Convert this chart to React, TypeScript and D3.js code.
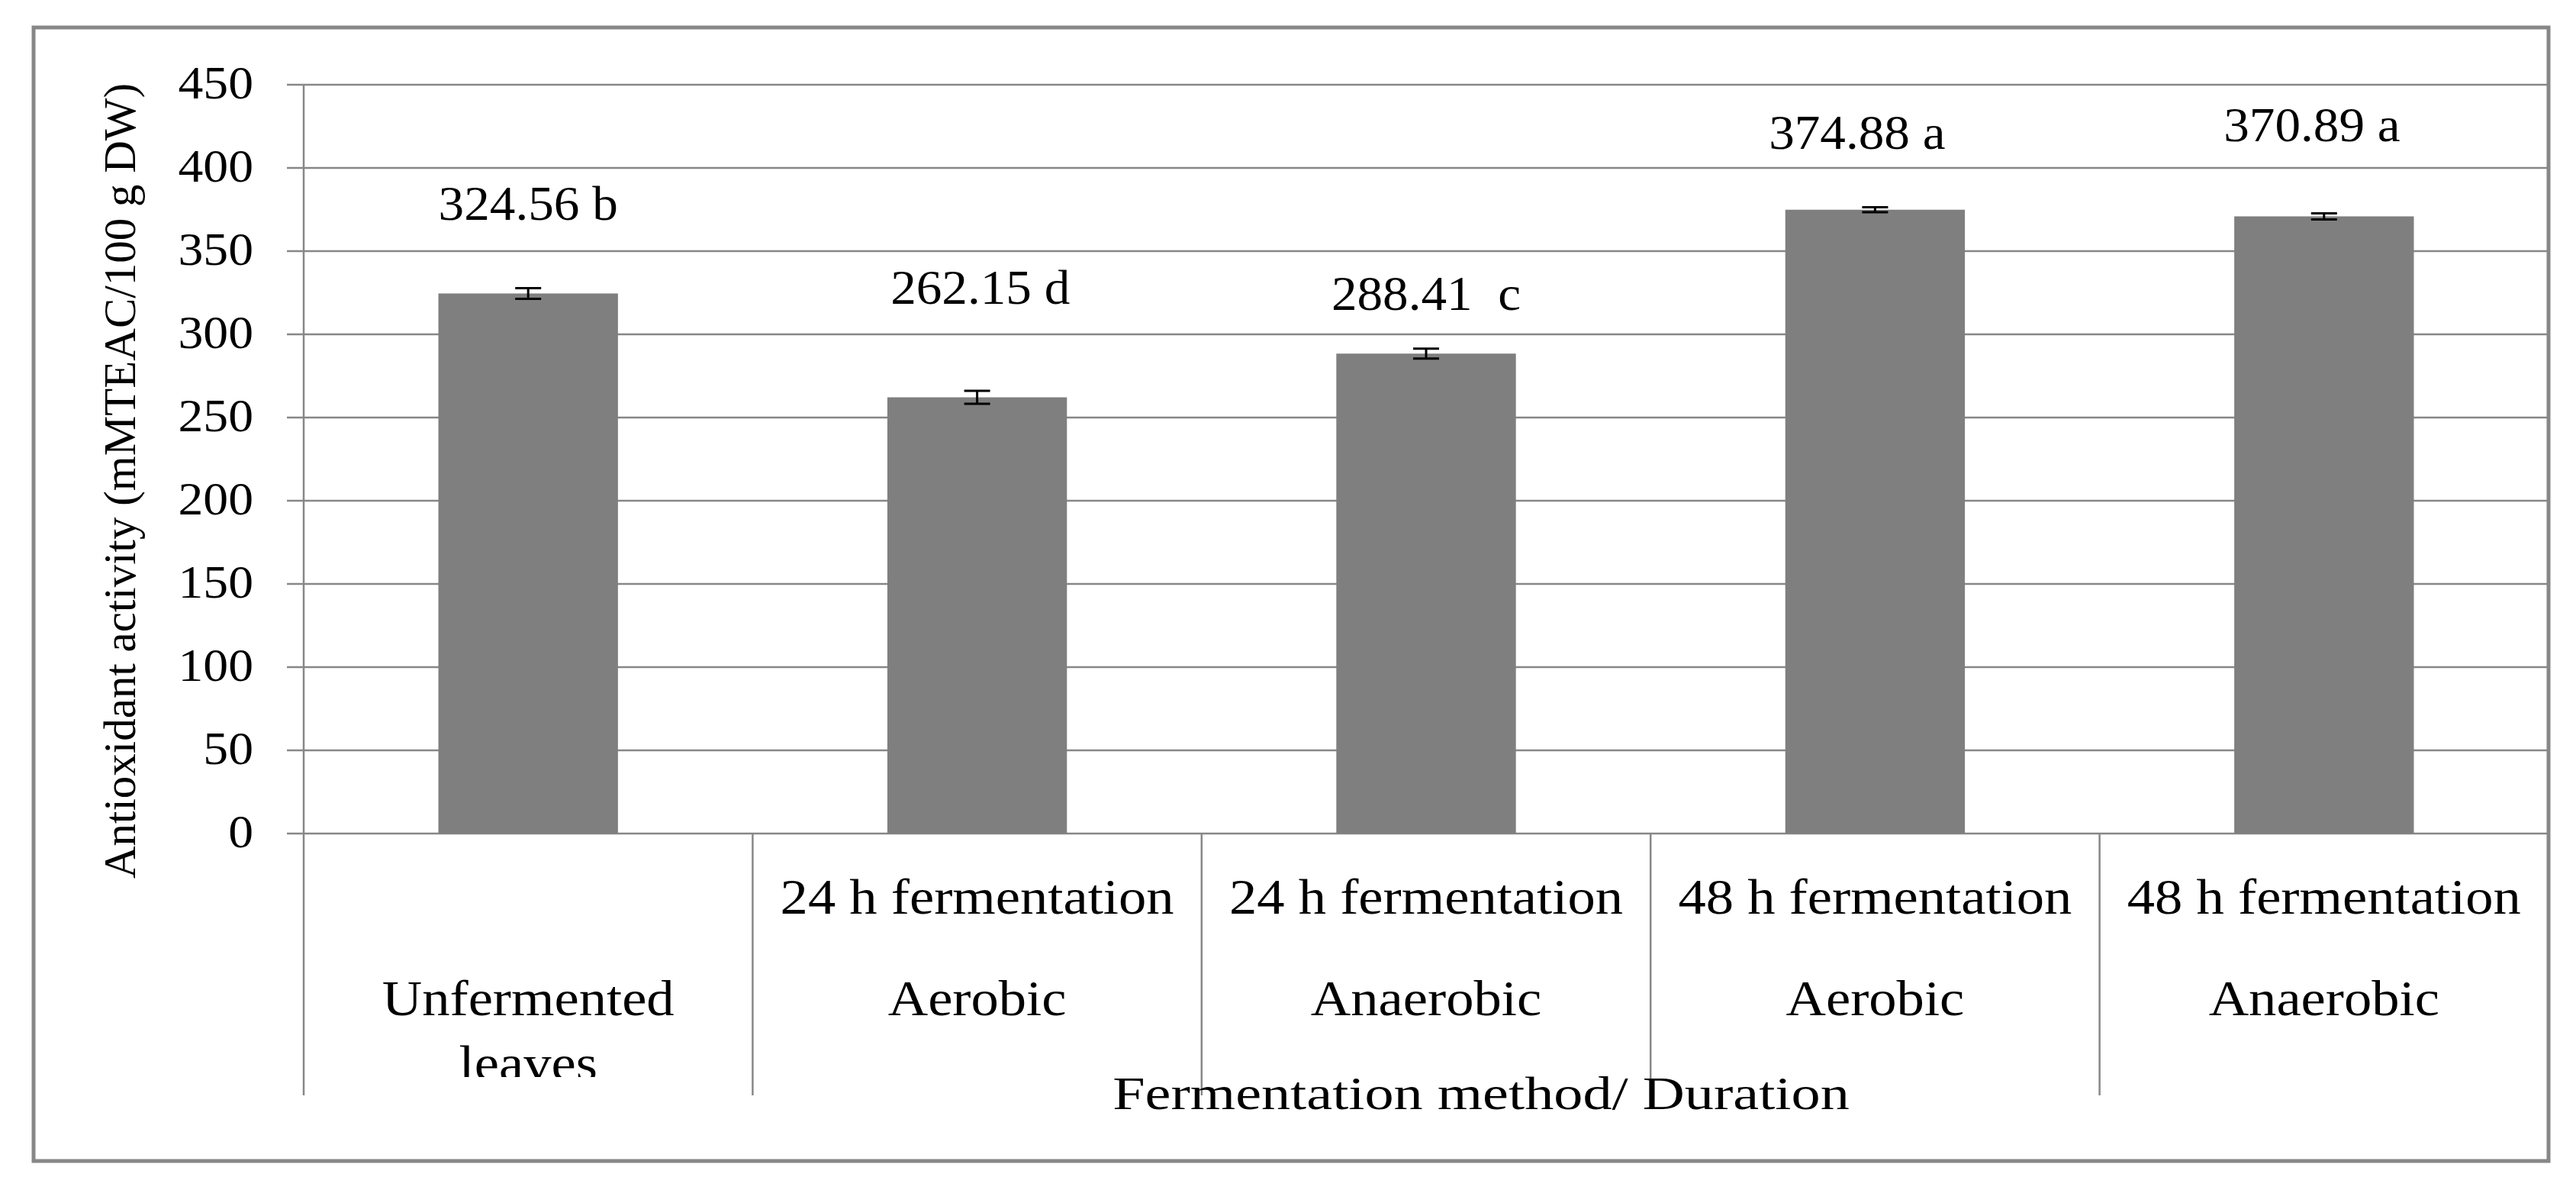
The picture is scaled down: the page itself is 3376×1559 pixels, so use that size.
import React from "react";
import * as d3 from "d3";

const categories = ["Unfermented leaves", "24 h Aerobic", "24 h Anaerobic", "48 h Aerobic", "48 h Anaerobic"];
const durationLabels = ["", "24 h fermentation", "24 h fermentation", "48 h fermentation", "48 h fermentation"];
const methodLabels = [["Unfermented", "leaves"], ["Aerobic"], ["Anaerobic"], ["Aerobic"], ["Anaerobic"]];
const values = [324.56, 262.15, 288.41, 374.88, 370.89];
const errors = [3.2, 3.9, 3.0, 1.5, 1.8];
const labelTexts = ["324.56 b", "262.15 d", "288.41  c", "374.88 a", "370.89 a"];
const labelAnchorValues = [368.8, 318.3, 314.7, 411.5, 416.1];
const labelShift = [0, 0.007, 0, -0.04, -0.027];
const yTicks = [0, 50, 100, 150, 200, 250, 300, 350, 400, 450];
const yTitle = "Antioxidant activity (mMTEAC/100 g DW)";
const xTitle = "Fermentation method/ Duration";

const W = 3376;
const H = 1559;
const FONT = "'Liberation Serif', 'Times New Roman', serif";
const GRID = "#878787";

function SText({ x, y, sx = 1, size, anchor = "middle", children }: any) {
  return (
    <text
      transform={`translate(${x},${y}) scale(${sx},1)`}
      textAnchor={anchor}
      fontFamily={FONT}
      fontSize={size}
      fill="#000"
      style={{ whiteSpace: "pre" }}
    >
      {children}
    </text>
  );
}

export default function App() {
  const left = 398;
  const right = 3340;
  const x = d3.scaleBand<string>().domain(categories).range([left, right]).padding(0);
  const y = d3.scaleLinear().domain([0, 450]).range([1092, 111]);
  const bw = x.bandwidth();
  const barW = bw * 0.4;
  const sepBottom = 1435;

  return (
    <svg
      width={W}
      height={H}
      viewBox={`0 0 ${W} ${H}`}
      style={{ position: "fixed", top: 0, left: 0, background: "#fff" }}
    >
      <defs>
        <clipPath id="catclip">
          <rect x={left} y={1094} width={right - left} height={1411 - 1094} />
        </clipPath>
      </defs>
      <rect x={0} y={0} width={W} height={H} fill="#fff" />
      {/* outer border */}
      <rect x={44} y={36} width={3340 - 44} height={1521 - 36} fill="none" stroke={GRID} strokeWidth={5} />

      {/* gridlines + ticks */}
      {yTicks.map((t) => (
        <g key={t}>
          <line x1={376} x2={right} y1={y(t)} y2={y(t)} stroke={GRID} strokeWidth={2.5} />
          <SText x={332} y={y(t) + 18} size={62} sx={1.06} anchor="end">
            {String(t)}
          </SText>
        </g>
      ))}

      {/* y axis line */}
      <line x1={left} x2={left} y1={y(450)} y2={sepBottom} stroke={GRID} strokeWidth={2.5} />
      {/* category separators */}
      {categories.map((c, i) => (
        <line
          key={c}
          x1={(x(c) as number) + bw}
          x2={(x(c) as number) + bw}
          y1={y(0)}
          y2={sepBottom}
          stroke={GRID}
          strokeWidth={2.5}
        />
      ))}

      {/* bars */}
      {categories.map((c, i) => {
        const cx = (x(c) as number) + bw / 2;
        return (
          <rect
            key={c}
            x={cx - barW / 2}
            y={y(values[i])}
            width={barW}
            height={y(0) - y(values[i])}
            fill="#7f7f7f"
          />
        );
      })}

      {/* error bars */}
      {categories.map((c, i) => {
        const cx = (x(c) as number) + bw / 2;
        const top = y(values[i] + errors[i]);
        const bot = y(values[i] - errors[i]);
        return (
          <g key={c} stroke="#000" strokeWidth={3}>
            <line x1={cx} x2={cx} y1={top} y2={bot} />
            <line x1={cx - 17} x2={cx + 17} y1={top} y2={top} />
            <line x1={cx - 17} x2={cx + 17} y1={bot} y2={bot} />
          </g>
        );
      })}

      {/* data labels */}
      {categories.map((c, i) => {
        const cx = (x(c) as number) + bw / 2 + labelShift[i] * bw;
        return (
          <SText key={c} x={cx} y={y(labelAnchorValues[i])} size={64} sx={1.05}>
            {labelTexts[i]}
          </SText>
        );
      })}

      {/* category labels */}
      <g clipPath="url(#catclip)">
        {categories.map((c, i) => {
          const cx = (x(c) as number) + bw / 2;
          return (
            <g key={c}>
              {durationLabels[i] && (
                <SText x={cx} y={1197} size={66} sx={1.1}>
                  {durationLabels[i]}
                </SText>
              )}
              {methodLabels[i].map((m, j) => (
                <SText key={m} x={cx} y={1330 + j * 85} size={66} sx={1.1}>
                  {m}
                </SText>
              ))}
            </g>
          );
        })}
      </g>

      {/* axis titles */}
      <SText x={1941} y={1453} size={62} sx={1.23}>
        {xTitle}
      </SText>
      <text
        transform={`translate(177,630) rotate(-90)`}
        textAnchor="middle"
        fontFamily={FONT}
        fontSize={59}
        fill="#000"
      >
        {yTitle}
      </text>
    </svg>
  );
}
